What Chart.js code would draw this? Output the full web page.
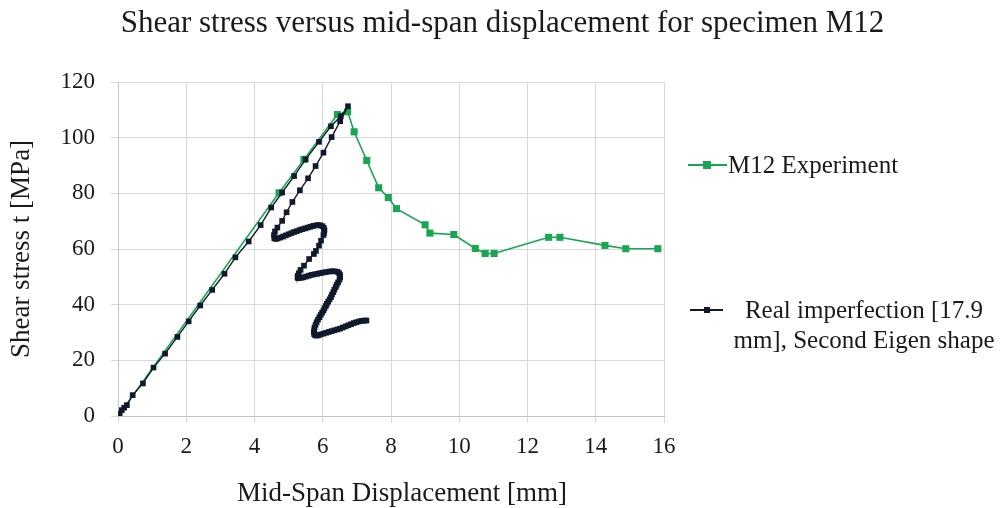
<!DOCTYPE html>
<html>
<head>
<meta charset="utf-8">
<script src="https://cdn.jsdelivr.net/npm/chart.js@4.4.0/dist/chart.umd.min.js"></script>
<style>
  html, body { margin: 0; padding: 0; background: #fff; }
  #wrap { position: relative; width: 1005px; height: 508px; overflow: hidden; }
  #c { position: absolute; left: 0; top: 0; }
  .txt { position: absolute; font-family: "Liberation Serif", "Times New Roman", serif; color: #1a1a1a; white-space: nowrap; }
  #title { left: 0; width: 1005px; top: 4px; text-align: center; font-size: 31px; line-height: 36px; }
  #xtitle { left: 202px; width: 400px; top: 476px; text-align: center; font-size: 27px; line-height: 32px; }
  .lgline { position: absolute; height: 2px; }
  .lgmark { position: absolute; }
</style>
</head>
<body>
<div id="wrap">
  <canvas id="c" width="1005" height="508"></canvas>
  <div id="title" class="txt">Shear stress versus mid-span displacement for specimen M12</div>
  <div id="xtitle" class="txt">Mid-Span Displacement [mm]</div>
  <div class="lgline" style="left:688px; top:164px; width:39px; background:#19a552;"></div>
  <div class="lgmark" style="left:703px; top:161px; width:8px; height:8px; background:#19a552;"></div>
  <div class="txt" style="left:728px; top:150px; font-size:25px; line-height:30px;">M12 Experiment</div>
  <div class="lgline" style="left:690px; top:309px; width:33px; background:#111a2c;"></div>
  <div class="lgmark" style="left:704px; top:307px; width:6px; height:6px; background:#111a2c;"></div>
  <div class="txt" style="left:726px; top:295px; width:276px; text-align:center; font-size:25px; line-height:30px;">Real imperfection [17.9<br>mm], Second Eigen shape</div>
</div>
<script>
// ---- data ----
const xTicks = [0, 2, 4, 6, 8, 10, 12, 14, 16];
const yTicks = [0, 20, 40, 60, 80, 100, 120];

const expX = [0, 4.72, 5.45, 6.43, 6.73, 6.92, 7.29, 7.64, 7.92, 8.16, 9.00, 9.14, 9.84, 10.47, 10.76, 11.02, 12.62, 12.95, 14.27, 14.88, 15.82];
const expY = [0, 80.2, 92.2, 108.3, 109.3, 102.1, 91.8, 82.0, 78.5, 74.5, 68.7, 65.7, 65.2, 60.2, 58.4, 58.4, 64.2, 64.2, 61.3, 60.1, 60.1];

const femX = [0, 0.05, 0.11, 0.18, 0.26, 0.43, 0.73, 1.04, 1.38, 1.74, 2.07, 2.41, 2.76, 3.12, 3.44, 3.83, 4.18, 4.49, 4.81, 5.16, 5.50, 5.89, 6.24, 6.53, 6.74,
  6.51, 6.26, 6.02, 5.79, 5.57, 5.33, 5.11, 4.94, 4.81, 4.67, 4.60, 4.57, 4.58, 4.62,
  4.68, 4.76, 4.84, 4.92, 5.00, 5.08, 5.16, 5.24, 5.32, 5.40, 5.48, 5.56, 5.64, 5.72, 5.80, 5.87, 5.93, 5.99, 6.03, 6.05, 6.04, 6.02,
  5.95, 5.89, 5.80, 5.74, 5.60, 5.45, 5.35, 5.30, 5.27, 5.26, 5.28,
  5.35, 5.43, 5.51, 5.59, 5.67, 5.76, 5.84, 5.92, 6.00, 6.09, 6.19, 6.27, 6.35, 6.43, 6.48, 6.51, 6.51, 6.49,
  6.45, 6.41, 6.38, 6.34, 6.31, 6.27, 6.24, 6.20, 6.16, 6.12, 6.09, 6.05, 6.02, 5.98, 5.94, 5.90, 5.86, 5.82, 5.79, 5.76, 5.75, 5.74, 5.75, 5.78, 5.82, 5.87,
  5.94, 6.02, 6.10, 6.18, 6.26, 6.34, 6.43, 6.51, 6.59, 6.67, 6.75, 6.83, 6.91, 6.99, 7.07, 7.15, 7.23, 7.28];
const femY = [0, 0.8, 2.1, 3.0, 3.9, 7.5, 11.7, 17.4, 22.4, 28.4, 34.0, 39.7, 45.3, 51.1, 57.0, 62.7, 68.6, 74.9, 80.3, 86.2, 92.2, 98.5, 104.1, 107.7, 111.3,
  105.9, 100.2, 94.6, 89.8, 85.4, 81.1, 76.9, 73.2, 70.1, 67.7, 66.3, 65.0, 63.9, 63.6,
  63.8, 64.1, 64.5, 64.9, 65.3, 65.7, 66.1, 66.4, 66.8, 67.1, 67.4, 67.7, 68.0, 68.3, 68.5, 68.6, 68.5, 68.2, 67.6, 66.8, 65.8, 65.0,
  63.0, 61.2, 59.3, 58.2, 56.4, 54.0, 52.5, 51.3, 50.4, 49.8, 49.5,
  49.6, 49.8, 50.1, 50.4, 50.7, 50.9, 51.1, 51.3, 51.5, 51.7, 51.9, 52.0, 52.0, 51.8, 51.3, 50.6, 49.8, 49.0,
  48.0, 47.2, 46.3, 45.4, 44.5, 43.6, 42.7, 41.9, 41.1, 40.3, 39.5, 38.7, 37.9, 37.1, 36.3, 35.5, 34.6, 33.7, 32.8, 31.8, 30.9, 30.1, 29.4, 29.0, 28.9, 29.0,
  29.3, 29.6, 29.9, 30.2, 30.5, 30.8, 31.1, 31.4, 31.8, 32.2, 32.6, 33.0, 33.4, 33.7, 34.0, 34.2, 34.3, 34.3];

const toPts = (xs, ys) => xs.map((x, i) => ({ x: x, y: ys[i] }));

const serif = "'Liberation Serif', 'Times New Roman', serif";
const GREEN = '#19a552';
const NAVY = '#111a2c';
const GRID = '#d9d9d9';

new Chart(document.getElementById('c'), {
  type: 'scatter',
  data: {
    datasets: [
      {
        label: 'M12 Experiment',
        data: toPts(expX, expY),
        showLine: true,
        borderColor: GREEN,
        backgroundColor: GREEN,
        borderWidth: 1.6,
        pointStyle: 'rect',
        pointRadius: 5,
        pointBorderWidth: 0,
        tension: 0,
        order: 1
      },
      {
        label: 'Real imperfection [17.9 mm], Second Eigen shape',
        data: toPts(femX, femY),
        showLine: true,
        borderColor: NAVY,
        backgroundColor: NAVY,
        borderWidth: 1.4,
        pointStyle: 'rect',
        pointRadius: 4,
        pointBorderWidth: 0,
        tension: 0,
        order: 0
      }
    ]
  },
  options: {
    responsive: false,
    animation: false,
    devicePixelRatio: 1,
    layout: { padding: { left: 0, right: 341, top: 82, bottom: 0 } },
    plugins: {
      legend: { display: false },
      title: { display: false },
      tooltip: { enabled: false }
    },
    scales: {
      x: {
        type: 'linear',
        min: 0, max: 16,
        afterBuildTicks: (s) => { s.ticks = xTicks.map(v => ({ value: v })); },
        afterFit: (s) => { s.height = 92; },
        grid: { color: GRID, lineWidth: 1, tickLength: 7, tickColor: GRID, drawTicks: true },
        border: { color: '#c4c4c4', width: 1 },
        ticks: { color: '#1a1a1a', font: { family: serif, size: 23 }, padding: 10, maxRotation: 0 },
        title: { display: false }
      },
      y: {
        type: 'linear',
        min: 0, max: 120,
        afterBuildTicks: (s) => { s.ticks = yTicks.map(v => ({ value: v })); },
        afterFit: (s) => { s.width = 118; },
        grid: { color: GRID, lineWidth: 1, tickLength: 7, tickColor: GRID, drawTicks: true },
        border: { color: '#c4c4c4', width: 1 },
        ticks: { color: '#1a1a1a', font: { family: serif, size: 23 }, padding: 16 },
        title: {
          display: true,
          text: 'Shear stress t [MPa]',
          color: '#1a1a1a',
          font: { family: serif, size: 27 },
          padding: { top: 6, bottom: 0 }
        }
      }
    }
  }
});
</script>
</body>
</html>
